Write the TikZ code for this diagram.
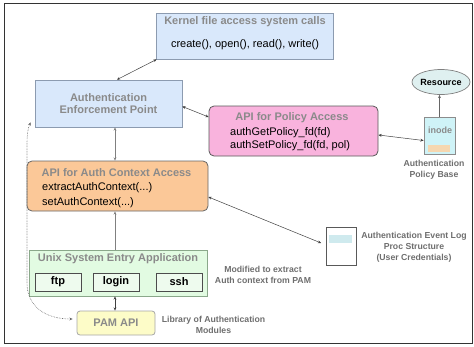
\documentclass[tikz,border=0pt]{standalone}
\usepackage{fontspec}
\setmainfont{Liberation Sans}
\usetikzlibrary{arrows.meta,shapes.geometric}

\definecolor{titlegray}{HTML}{8A8A8A}
\definecolor{notegray}{HTML}{6E6E6E}
\definecolor{kernelblue}{HTML}{D9E8FB}
\definecolor{kernelline}{HTML}{8C9BB0}
\definecolor{policypink}{HTML}{F9B3DD}
\definecolor{ctxorange}{HTML}{FBC898}
\definecolor{unixgreen}{HTML}{E2FBE2}
\definecolor{unixline}{HTML}{8AA88A}
\definecolor{appgreen}{HTML}{EEFBEE}
\definecolor{pamyellow}{HTML}{FDFCC8}
\definecolor{rescyan}{HTML}{DFF0F0}
\definecolor{inodecyan}{HTML}{CFF3F7}
\definecolor{tagorange}{HTML}{F6D7B0}
\definecolor{logcyan}{HTML}{CFEAEE}

\tikzset{
  x=1pt, y=-1pt,
  box/.style={draw=#1, line width=0.8pt, inner sep=0pt},
  ttl/.style={text=titlegray, font=\bfseries\fontsize{11}{12}\selectfont, inner sep=0pt},
  body/.style={font=\fontsize{11}{13}\selectfont, inner sep=0pt, align=left},
  note/.style={text=notegray, font=\bfseries\fontsize{8.7}{11}\selectfont, inner sep=0pt, align=center},
  link/.style={draw=black!75, line width=0.5pt, {Stealth[length=3.2pt,width=2.8pt]}-{Stealth[length=3.2pt,width=2.8pt]}},
  vlink/.style={draw=black!50, line width=0.8pt},
  dotlink/.style={draw=black!60, line width=0.6pt, densely dotted, {Stealth[length=3.2pt,width=2.8pt]}-{Stealth[length=3.2pt,width=2.8pt]}},
}

\begin{document}
\begin{tikzpicture}
\useasboundingbox (0,0) rectangle (474,346);
\draw[black!80, line width=1pt] (4,3) rectangle (472.5,343);

% kernel system calls
\node[box=kernelline, fill=kernelblue, minimum width=177pt, minimum height=46pt] (kernel) at (244.5,36) {};
\node[ttl] (kernelttl) at (245,22) {Kernel file access system calls};
\node[body] (kernelbody) at (245,45) {create(), open(), read(), write()};

% enforcement point
\node[box=kernelline, fill=kernelblue, minimum width=147pt, minimum height=47pt] (aep) at (108.5,103.5) {};
\node[ttl, align=center] (aepttl) at (108.5,104) {Authentication\\Enforcement Point};

% policy access API
\node[box=black!65, fill=policypink, rounded corners=5pt, minimum width=169pt, minimum height=50pt] (policy) at (293.5,131) {};
\node[ttl] (policyttl) at (292,118) {API for Policy Access};
\node[body, anchor=west] (policybody) at (230,139.5) {authGetPolicy\_fd(fd)\\authSetPolicy\_fd(fd, pol)};

% resource and inode
\node[ellipse, draw=black!50, line width=0.7pt, fill=rescyan, minimum width=56pt, minimum height=25pt, inner sep=0pt,
      font=\bfseries\fontsize{9}{10}\selectfont] (resource) at (441,82) {Resource};
\node[box=black!45, fill=inodecyan, minimum width=31pt, minimum height=37pt] (inode) at (439.5,135.5) {};
\node[text=titlegray, font=\bfseries\fontsize{9}{10}\selectfont, inner sep=0pt] (inodettl) at (440,130) {inode};
\node[fill=tagorange, minimum width=22pt, minimum height=7pt, inner sep=0pt] (inodetag) at (439,148.5) {};
\node[note] (policybase) at (434,169.5) {Authentication\\Policy Base};

% auth context API
\node[box=black!60, fill=ctxorange, rounded corners=5pt, minimum width=181pt, minimum height=50pt] (ctx) at (117.5,186) {};
\node[ttl] (ctxttl) at (116.5,173) {API for Auth Context Access};
\node[body, anchor=west, font=\fontsize{11}{15}\selectfont] (ctxbody) at (42,195.5) {extractAuthContext(...)\\setAuthContext(...)};

% event log
\node[box=black!65, fill=white, minimum width=30pt, minimum height=38pt] (evlog) at (341,246) {};
\node[fill=logcyan, minimum width=23pt, minimum height=8pt, inner sep=0pt] (evlogtag) at (340.5,239) {};
\node[note] (evlognote) at (414,247.5) {Authentication Event Log\\Proc Structure\\(User Credentials)};

% unix entry applications
\node[box=unixline, fill=unixgreen, minimum width=178pt, minimum height=46pt] (unix) at (118,273) {};
\node[ttl] (unixttl) at (118,259) {Unix System Entry Application};
\node[box=black!70, fill=appgreen, minimum width=46pt, minimum height=18pt, font=\bfseries\fontsize{11}{12}\selectfont] (ftp) at (58,282) {ftp};
\node[box=black!70, fill=appgreen, minimum width=46pt, minimum height=18pt, font=\bfseries\fontsize{11}{12}\selectfont] (login) at (116,282) {login};
\node[box=black!70, fill=appgreen, minimum width=46pt, minimum height=18pt, font=\bfseries\fontsize{11}{12}\selectfont] (ssh) at (179,282) {ssh};
\node[note] (modnote) at (263,274.5) {Modified to extract\\Auth context from PAM};

% PAM
\node[box=black!35, fill=pamyellow, rounded corners=3pt, minimum width=78pt, minimum height=24pt] (pam) at (116,323) {};
\node[ttl] (pamttl) at (116,323) {PAM API};
\node[note] (pamnote) at (213.5,324.5) {Library of Authentication\\Modules};

% connectors
\draw[link] ([xshift=1pt]kernel.south west) -- ([xshift=8.5pt]aep.north);
\draw[link] ([yshift=-3pt]aep.east) -- ([yshift=14pt]policy.west);
\draw[link] ([yshift=-4pt]policy.east) -- ([yshift=-5pt]inode.west);
\draw[draw=black!60, line width=0.5pt, -{Stealth[length=3.2pt,width=2.8pt]}] (inode.north) -- (inode.north |- resource.south);
\draw[vlink, {Stealth[length=3.2pt,width=2.8pt]}-{Stealth[length=3.2pt,width=2.8pt]}]
     ([xshift=6.5pt]aep.south) -- ([xshift=6.5pt]aep.south |- ctx.north);
\draw[vlink, -{Stealth[length=3.2pt,width=2.8pt]}] ([xshift=-3pt]unix.north) -- ([xshift=-3pt]unix.north |- ctx.south);
\draw[link] ([xshift=-3pt]unix.south) -- ([xshift=-3pt]unix.south |- pam.north);
\draw[link] ([yshift=-11pt]ctx.east) -- ([xshift=-4.5pt,yshift=3pt]evlog.west);

\coordinate (aeptip) at ([xshift=-4pt,yshift=5pt]aep.south west);
\coordinate (pamtip) at ([xshift=-4pt,yshift=4pt]pam.west);
\draw[dotlink] (aeptip) .. controls (28,128) and (27,134) .. (27,145) -- (27,283)
               .. controls (27,306) and (45,319) .. (pamtip);
\end{tikzpicture}
\end{document}
